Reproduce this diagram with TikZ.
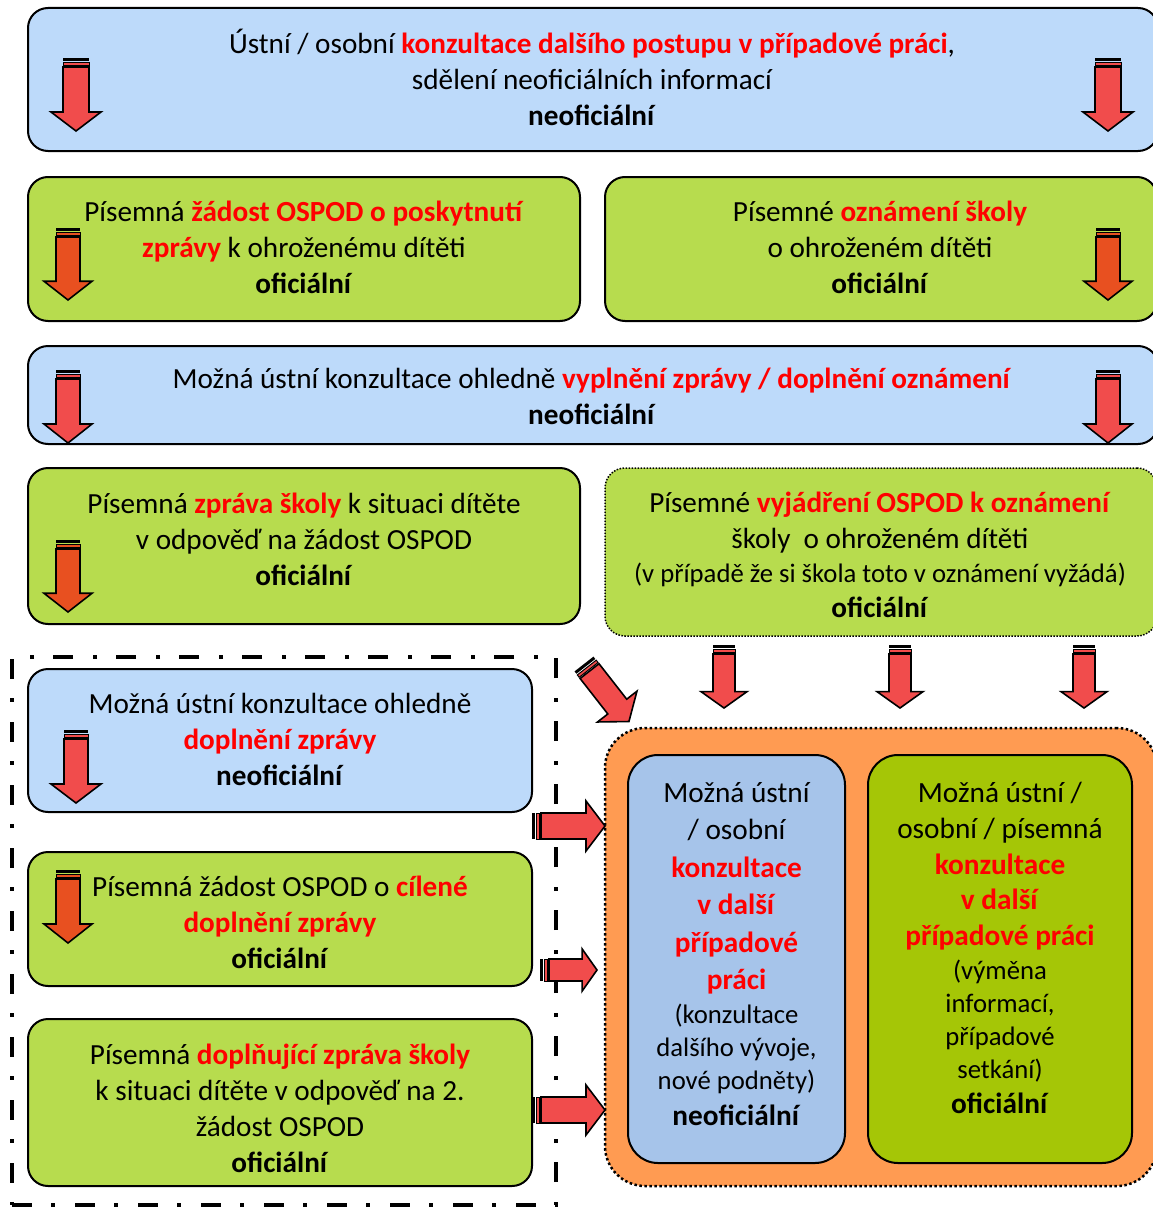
\documentclass[tikz,border=0pt]{standalone}
\usepackage{fontspec}
\setmainfont{Carlito}
\definecolor{lblue}{RGB}{189,218,250}
\definecolor{lgreen}{RGB}{183,220,78}
\definecolor{orangebg}{RGB}{255,155,82}
\definecolor{iblue}{RGB}{166,196,234}
\definecolor{igreen}{RGB}{165,198,6}
\definecolor{arrred}{RGB}{241,76,76}
\definecolor{arrorange}{RGB}{232,80,32}
\newcommand\rd[1]{\textcolor{red}{\textbf{#1}}}
\newcommand\smallline{\fontsize{26.7}{33}\selectfont}
\newcommand\barrow[6]{%
\begin{scope}[shift={#1},rotate=#2]
 \fill[black] (-#4,0) rectangle (#4,3);
 \draw[fill=#6,line width=1pt] (-#4,4.5) rectangle (#4,7.5);
 \draw[fill=#6,line width=1.6pt,line join=miter] (-#4,9) -- (#4,9) -- (#4,{0.74*#3}) -- (#5,{0.74*#3}) -- (0,#3) -- (-#5,{0.74*#3}) -- (-#4,{0.74*#3}) -- cycle;
\end{scope}}
\tikzset{
 box/.style={draw=black, line width=2pt, rounded corners=20pt, inner sep=0pt},
 bluebox/.style={box, fill=lblue},
 greenbox/.style={box, fill=lgreen},
 txt/.style={align=center, font=\fontsize{29.2}{36}\selectfont, inner sep=0pt},
 itxt/.style={align=center, font=\fontsize{29.3}{37.5}\selectfont, inner sep=0pt},
}
\begin{document}
\begin{tikzpicture}[x=1pt,y=-1pt]
\useasboundingbox (0,0) rectangle (1153,1207);
\clip (0,0) rectangle (1153,1207);
\fill[white] (0,0) rectangle (1153,1207);

% row 1
\node[bluebox, minimum width=1130pt, minimum height=143pt] (b1) at (593,79.5) {};
\node[txt] (t1) at (592,77) {Ústní / osobní \rd{konzultace dalšího postupu v případové práci},\\sdělení neoficiálních informací\\\textbf{neoficiální}};
\barrow{(76,58)}{0}{73}{13}{25}{arrred}
\barrow{(1108,58)}{0}{73}{13}{25}{arrred}

% row 2
\node[greenbox, minimum width=552pt, minimum height=144pt] (b2) at (304,249) {};
\node[txt] (t2) at (304,247) {Písemná \rd{žádost OSPOD o poskytnutí}\\\rd{zprávy} k ohroženému dítěti\\\textbf{oficiální}};
\barrow{(68,228)}{0}{72}{12}{24}{arrorange}
\node[greenbox, minimum width=552pt, minimum height=144pt] (b3) at (881,249) {};
\node[txt] (t3) at (880,247) {Písemné \rd{oznámení školy}\\o ohroženém dítěti\\\textbf{oficiální}};
\barrow{(1108,228)}{0}{72}{12}{24}{arrorange}

% row 3
\node[bluebox, minimum width=1130pt, minimum height=98pt] (b4) at (593,395) {};
\node[txt] (t4) at (592,396) {Možná ústní konzultace ohledně \rd{vyplnění zprávy / doplnění oznámení}\\\textbf{neoficiální}};
\barrow{(68,370)}{0}{73}{12}{24}{arrred}
\barrow{(1108,370)}{0}{73}{12}{24}{arrred}

% row 4
\node[greenbox, minimum width=552pt, minimum height=156pt] (b5) at (304,546) {};
\node[txt] (t5) at (304,539.5) {Písemná \rd{zpráva školy} k situaci dítěte\\v odpověď na žádost OSPOD\\\textbf{oficiální}};
\barrow{(68,540)}{0}{72}{12}{24}{arrorange}
\node[draw=black, line width=1.5pt, dash pattern=on 1.5pt off 1.5pt, fill=lgreen, rounded corners=20pt, inner sep=0pt, minimum width=552pt, minimum height=168pt] (b6) at (881,552) {};
\node[txt] (t6) at (880,555) {Písemné \rd{vyjádření OSPOD k oznámení}\\školy\ \ o ohroženém dítěti\\[-2pt]{\smallline (v případě že si škola toto v oznámení vyžádá)}\\[-1pt]\textbf{oficiální}};
\barrow{(724,645)}{0}{63}{11}{23}{arrred}
\barrow{(900,645)}{0}{63}{11}{23}{arrred}
\barrow{(1084,645)}{0}{63}{11}{23}{arrred}
\barrow{(584,664)}{38}{73}{12}{25}{arrred}

% dashed group
\node[draw=black, line width=4pt, dash pattern=on 20pt off 19pt on 4pt off 20pt, inner sep=0pt, minimum width=544pt, minimum height=548pt] (grp) at (284,931) {};

\node[bluebox, minimum width=504pt, minimum height=143pt] (b7) at (280,740.5) {};
\node[txt] (t7) at (280,739) {Možná ústní konzultace ohledně\\\rd{doplnění zprávy}\\\textbf{neoficiální}};
\barrow{(76,730)}{0}{73}{12}{25}{arrred}

\node[greenbox, minimum width=504pt, minimum height=134pt] (b8) at (280,919) {};
\node[txt] (t8) at (280,922) {Písemná žádost OSPOD o \rd{cílené}\\\rd{doplnění zprávy}\\\textbf{oficiální}};
\barrow{(68,870)}{0}{73}{12}{24}{arrorange}

\node[greenbox, minimum width=504pt, minimum height=167pt] (b9) at (280,1102.5) {};
\node[txt] (t9) at (280,1108) {Písemná \rd{doplňující zpráva školy}\\k situaci dítěte v odpověď na 2.\\žádost OSPOD\\\textbf{oficiální}};

% orange container
\node[draw=black, line width=2.5pt, dash pattern=on 2.5pt off 2.5pt, fill=orangebg, rounded corners=40pt, inner sep=0pt, minimum width=552pt, minimum height=458pt] (org) at (881,957) {};
\node[box, fill=iblue, rounded corners=30pt, minimum width=217pt, minimum height=408pt] (ib) at (736.5,959) {};
\node[itxt] (tib) at (736.5,954) {Možná ústní\\/ osobní\\\rd{konzultace}\\\rd{v další}\\\rd{případové}\\\rd{práci}\\[-3.5pt]{\smallline (konzultace}\\[-4.5pt]{\smallline dalšího vývoje,}\\[-4.5pt]{\smallline nové podněty)}\\[-1.5pt]\textbf{neoficiální}};
\node[box, fill=igreen, rounded corners=30pt, minimum width=264pt, minimum height=408pt] (ig) at (1000,959) {};
\node[itxt] (tig) at (1000,948) {Možná ústní /\\[-1.5pt]osobní / písemná\\[-1.5pt]\rd{konzultace}\\[-2.5pt]\rd{v další}\\[-1.5pt]\rd{případové práci}\\[-3.5pt]{\smallline (výměna}\\[-4.5pt]{\smallline informací,}\\[-4.5pt]{\smallline případové}\\[-4.5pt]{\smallline setkání)}\\[-2pt]\textbf{oficiální}};

% right arrows
\barrow{(532,826)}{90}{73}{13}{25}{arrred}
\barrow{(540,970)}{90}{57}{11}{21}{arrred}
\barrow{(532,1110)}{90}{73}{13}{25}{arrred}
\end{tikzpicture}
\end{document}
